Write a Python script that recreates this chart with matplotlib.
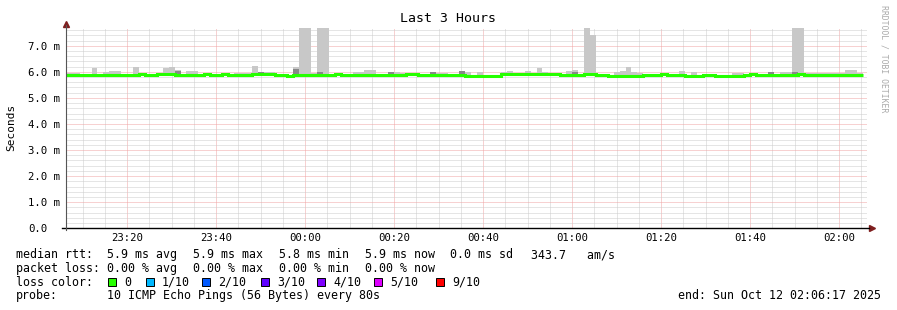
import numpy as np
import matplotlib.pyplot as plt
from matplotlib.patches import Rectangle
from matplotlib.ticker import MultipleLocator

plt.rcParams['font.family'] = ['DejaVu Sans Mono']

# time axis: minutes after 23:00 (Oct 11), window 23:06:17 .. 02:06:17
t_start = 6 + 17 / 60
t_end = t_start + 180
step_min = 80 / 60          # one probe round every 80 s
first_step = 5.35           # left edge of the first stored step

tick_pos = [20, 40, 60, 80, 100, 120, 140, 160, 180]
tick_labels = ['23:20', '23:40', '00:00', '00:20', '00:40', '01:00', '01:20', '01:40', '02:00']
y_labels = ['0.0', '1.0 m', '2.0 m', '3.0 m', '4.0 m', '5.0 m', '6.0 m', '7.0 m']

# median rtt per step (ms)
median = [
    5.89, 5.89, 5.89, 5.89, 5.89, 5.89, 5.89, 5.89, 5.89, 5.89, 5.89, 5.89, 5.89, 5.93, 5.89,
    5.89, 5.93, 5.93, 5.93, 5.89, 5.89, 5.89, 5.89, 5.89, 5.93, 5.89, 5.89, 5.93, 5.89, 5.89,
    5.89, 5.89, 5.93, 5.93, 5.93, 5.93, 5.89, 5.89, 5.84, 5.89, 5.89, 5.89, 5.89, 5.89, 5.89,
    5.89, 5.93, 5.89, 5.89, 5.89, 5.89, 5.89, 5.89, 5.89, 5.89, 5.89, 5.89, 5.89, 5.93, 5.93,
    5.89, 5.89, 5.89, 5.89, 5.89, 5.89, 5.89, 5.89, 5.84, 5.84, 5.84, 5.84, 5.84, 5.84, 5.93,
    5.93, 5.93, 5.93, 5.93, 5.93, 5.93, 5.93, 5.93, 5.93, 5.89, 5.89, 5.89, 5.89, 5.93, 5.93,
    5.89, 5.89, 5.84, 5.84, 5.84, 5.84, 5.84, 5.84, 5.89, 5.89, 5.89, 5.93, 5.89, 5.89, 5.89,
    5.84, 5.84, 5.84, 5.89, 5.89, 5.84, 5.84, 5.84, 5.84, 5.84, 5.89, 5.93, 5.89, 5.89, 5.89,
    5.89, 5.89, 5.89, 5.89, 5.93, 5.89, 5.89, 5.89, 5.89, 5.89, 5.89, 5.89, 5.89, 5.89, 5.89,
]

# slowest ping per step (light smoke top, ms)
smoke_hi = [
    5.96, 5.97, 5.97, 5.89, 5.89, 6.13, 5.89, 5.98, 6.04, 6.04, 5.89, 5.89, 6.17, 5.93, 5.89,
    5.89, 5.93, 6.13, 6.17, 6.08, 5.89, 6.02, 6.02, 5.89, 5.93, 5.89, 5.89, 5.93, 5.89, 5.96,
    5.97, 5.96, 6.24, 6.00, 5.98, 5.98, 5.89, 5.89, 5.84, 6.20, 7.90, 7.90, 5.97, 7.90, 7.90,
    5.89, 5.93, 5.89, 5.89, 6.00, 6.00, 6.08, 6.08, 5.89, 5.89, 6.00, 6.00, 5.97, 5.93, 5.93,
    5.89, 5.89, 5.98, 5.96, 5.96, 5.89, 5.89, 6.04, 5.99, 5.84, 6.00, 5.84, 5.84, 5.84, 6.00,
    6.04, 5.93, 5.93, 6.04, 5.93, 6.13, 6.00, 5.93, 5.93, 5.89, 6.04, 6.06, 5.89, 7.90, 7.41,
    5.89, 5.89, 5.84, 6.00, 6.04, 6.20, 5.98, 5.96, 5.89, 5.89, 5.89, 5.93, 5.89, 5.89, 6.04,
    5.84, 6.00, 5.84, 5.89, 5.89, 5.84, 5.84, 5.84, 5.96, 5.96, 5.89, 5.93, 5.89, 5.89, 6.00,
    5.89, 6.00, 6.00, 7.90, 7.90, 5.96, 5.96, 5.96, 5.96, 5.96, 5.96, 5.96, 6.08, 6.08, 5.96,
]

# steps where several pings were slow (dark smoke)
dark_steps = [19, 33, 39, 43, 55, 62, 67, 86, 119, 123]
dark_top = [6.04, 6.00, 6.10, 5.98, 6.00, 5.98, 6.04, 6.00, 6.00, 5.98]

loss_labels = ['0', '1/10', '2/10', '3/10', '4/10', '5/10', '9/10']
loss_colors = ['#26ff00', '#00b8ff', '#0059ff', '#5e00ff', '#7e00ff', '#dd00ff', '#ff0000']

W, H = 897, 310
fig = plt.figure(figsize=(W / 100, H / 100), dpi=100)
fig.patch.set_facecolor('white')


def fx(px):
    return px / W


def fy(py):
    return 1 - py / H


ax = fig.add_axes([fx(66), fy(228.3), fx(867) - fx(66), fy(28) - fy(228.3)])

med = np.array(median)
hi = np.array(smoke_hi)
lefts = first_step + step_min * np.arange(len(med))
edges = np.append(lefts, lefts[-1] + step_min)

ax.bar(lefts, hi - med, width=step_min, bottom=med, align='edge',
       color='#c8c8c8', linewidth=0, zorder=2)
ax.bar(lefts[dark_steps], np.array(dark_top) - med[dark_steps], width=step_min,
       bottom=med[dark_steps], align='edge', color='#888888', linewidth=0, zorder=3)
ax.stairs(med, edges, baseline=None, color='#26ff00', linewidth=2.2, zorder=4)

ax.set_xlim(t_start, t_end)
ax.set_ylim(0, 7.68)

ax.set_xticks(tick_pos, tick_labels)
ax.xaxis.set_minor_locator(MultipleLocator(5))
ax.set_yticks(range(len(y_labels)), y_labels)
ax.yaxis.set_minor_locator(MultipleLocator(0.2))
for lab in ax.get_yticklabels():
    lab.set_horizontalalignment('left')
ax.tick_params(axis='y', which='both', length=0, pad=27.4, labelsize=7.7)
ax.tick_params(axis='x', which='both', length=0, pad=3.6, labelsize=7.7)

ax.set_axisbelow(True)
ax.grid(which='minor', color='#cccccc', linewidth=0.72, linestyle=(0, (1, 1)))
ax.grid(which='major', color='#f0a4a4', linewidth=0.72, linestyle=(0, (1, 1)))

for s in ax.spines.values():
    s.set_visible(False)
ax.plot([-0.005, 1.003], [0, 0], color='black', lw=1.0, transform=ax.transAxes,
        clip_on=False, zorder=5)
ax.plot([0, 0], [-0.01, 1.015], color='#555555', lw=0.8, transform=ax.transAxes,
        clip_on=False, zorder=5)
ax.plot([0], [1.02], marker='^', color='#7f1f1f', markersize=4, transform=ax.transAxes, clip_on=False)
ax.plot([1.006], [0], marker='>', color='#7f1f1f', markersize=4, transform=ax.transAxes, clip_on=False)

fig.text(fx(448), fy(19), 'Last 3 Hours', ha='center', va='center', size=9.5)
fig.text(fx(11), fy(127), 'Seconds', rotation=90, ha='center', va='center', size=8)
fig.text(fx(884), fy(59), 'RRDTOOL / TOBI OETIKER', rotation=270, ha='center', va='center',
         size=5.9, color='#aaaaaa')

lsize = 8.35
rows = [254.5, 268.5, 282, 295.5]
fig.text(fx(16), fy(rows[0]), 'median rtt:', va='center', size=lsize)
for xp, txt in zip([107, 193, 279, 365, 450, 531],
                   ['5.9 ms avg', '5.9 ms max', '5.8 ms min', '5.9 ms now', '0.0 ms sd', '343.7   am/s']):
    fig.text(fx(xp), fy(rows[0]), txt, va='center', size=lsize)

fig.text(fx(16), fy(rows[1]), 'packet loss:', va='center', size=lsize)
for xp, txt in zip([107, 193, 279, 365],
                   ['0.00 % avg', '0.00 % max', '0.00 % min', '0.00 % now']):
    fig.text(fx(xp), fy(rows[1]), txt, va='center', size=lsize)

fig.text(fx(16), fy(rows[2]), 'loss color:', va='center', size=lsize)
for xp, lab, col in zip([108, 146, 202, 261, 317, 374, 436], loss_labels, loss_colors):
    fig.patches.append(Rectangle((fx(xp), fy(rows[2] + 4)), 8 / W, 8 / H, transform=fig.transFigure,
                                 facecolor=col, edgecolor='black', linewidth=0.7))
    fig.text(fx(xp + 16), fy(rows[2]), lab, va='center', size=lsize)

fig.text(fx(16), fy(rows[3]), 'probe:', va='center', size=lsize)
fig.text(fx(107), fy(rows[3]), '10 ICMP Echo Pings (56 Bytes) every 80s', va='center', size=lsize)
fig.text(fx(881), fy(rows[3]), 'end: Sun Oct 12 02:06:17 2025', ha='right', va='center', size=lsize)

fig.savefig('out.png', dpi=100)
